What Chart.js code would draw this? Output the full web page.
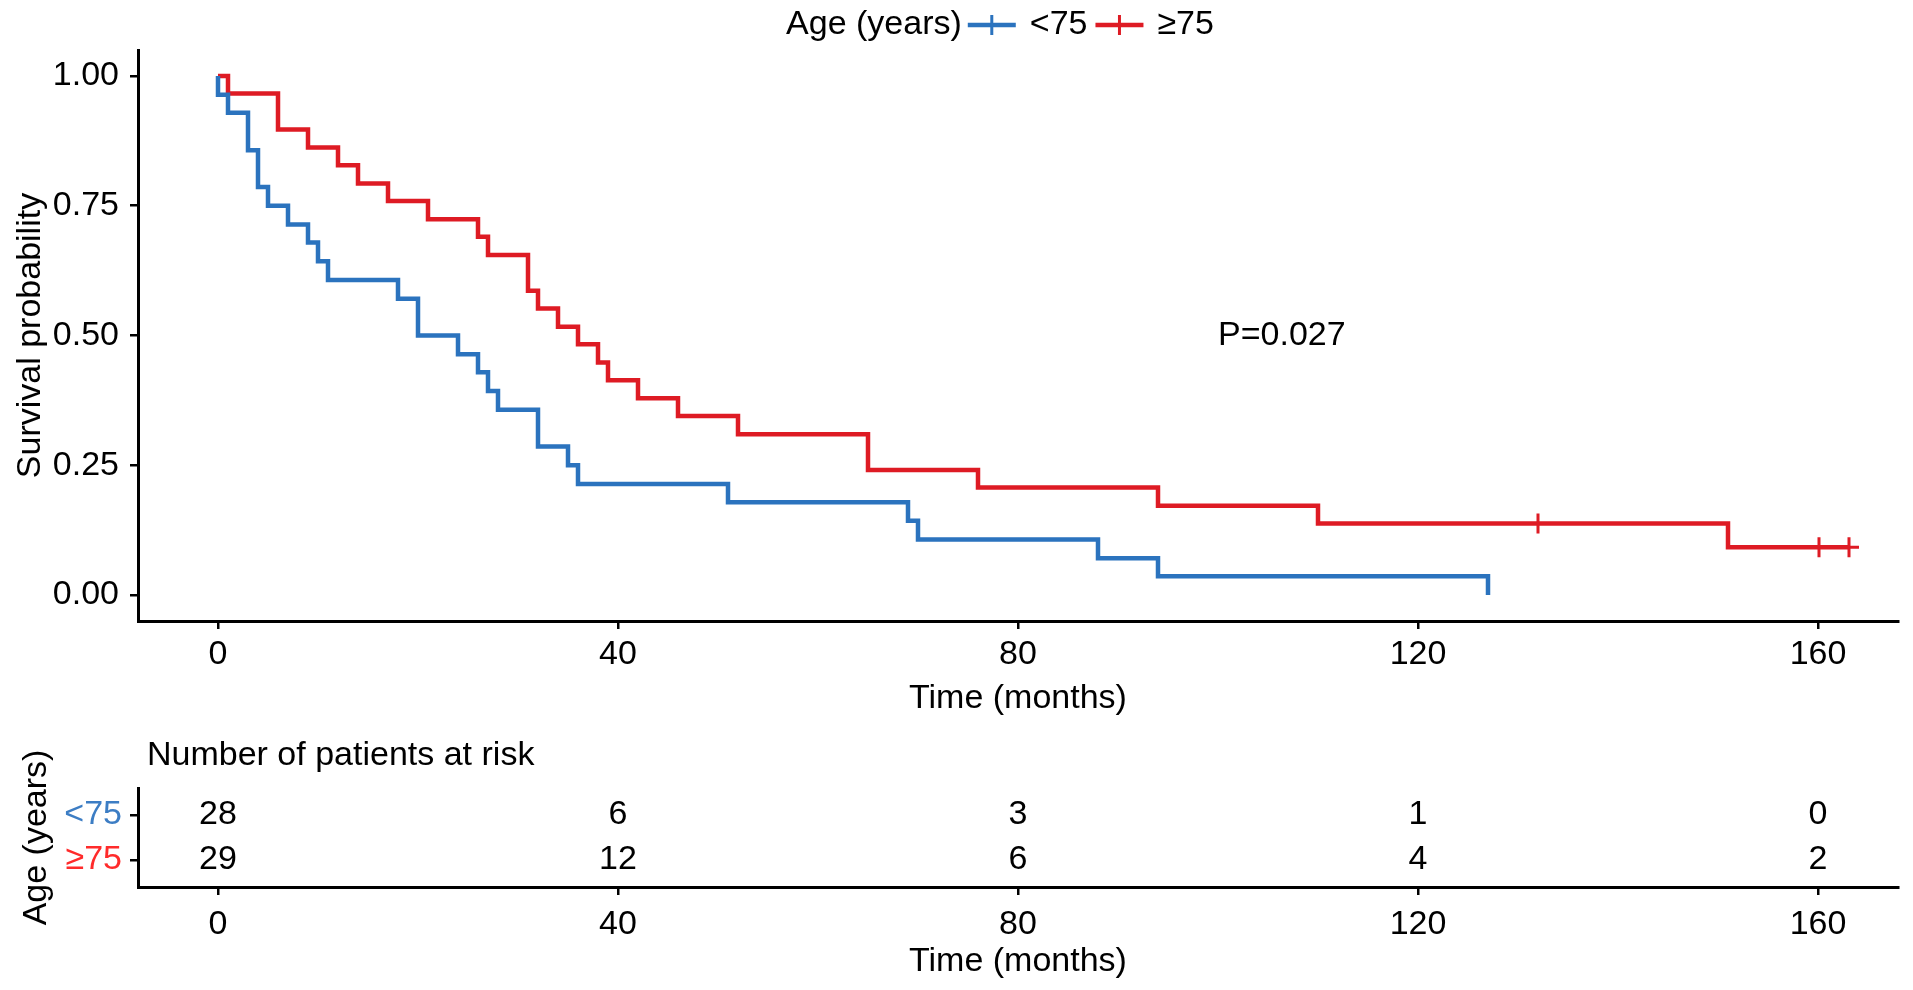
<!DOCTYPE html>
<html>
<head>
<meta charset="utf-8">
<script src="https://cdn.jsdelivr.net/npm/chart.js@4.4.0/dist/chart.umd.min.js"></script>
<style>
  html, body { margin: 0; padding: 0; background: #fff; }
  body { width: 1913px; height: 990px; position: relative; overflow: hidden; }
  #kmWrap { position: absolute; left: 0; top: 0; width: 1913px; height: 730px; }
  #riskWrap { position: absolute; left: 0; top: 730px; width: 1913px; height: 260px; }
</style>
</head>
<body>
<div id="kmWrap"><canvas id="km" width="1913" height="730"></canvas></div>
<div id="riskWrap"><canvas id="risk" width="1913" height="260"></canvas></div>
<script>
// tick labels and groups
const timeTicks = [0, 40, 80, 120, 160];
const survTicks = [0, 0.25, 0.5, 0.75, 1];
const groupLabels = ['<75', '≥75'];

// <75 curve (time in months, survival after the step)
const youngTimes = [0, 0, 1, 3, 4, 5, 7, 9, 10, 11, 18, 20, 24, 26, 27, 28, 32, 35, 36, 51, 69, 70, 88, 94, 127];
const youngSurv = [1, 0.964, 0.929, 0.857, 0.786, 0.750, 0.714, 0.679, 0.643, 0.607, 0.571, 0.500, 0.464, 0.429, 0.393, 0.357, 0.286, 0.250, 0.214, 0.179, 0.143, 0.107, 0.071, 0.036, 0];

// >=75 curve
const oldTimes = [0, 1, 6, 9, 12, 14, 17, 21, 26, 27, 31, 32, 34, 36, 38, 39, 42, 46, 52, 65, 76, 94, 110, 151, 163.1];
const oldSurv = [1, 0.966, 0.897, 0.862, 0.828, 0.793, 0.759, 0.724, 0.690, 0.655, 0.586, 0.552, 0.517, 0.483, 0.448, 0.414, 0.379, 0.345, 0.310, 0.241, 0.207, 0.172, 0.138, 0.092, 0.092];
const oldCensorTimes = [132, 160.1, 163.1];
const oldCensorSurv = [0.138, 0.092, 0.092];

// number at risk
const youngRisk = [28, 6, 3, 1, 0];
const oldRisk = [29, 12, 6, 4, 2];

const pValueText = 'P=0.027';

const BLUE = '#2B73BE';
const RED = '#DE1B24';
const FONT = '"Liberation Sans", Arial, Helvetica, sans-serif';
const FS = 34;

Chart.defaults.font.family = FONT;
Chart.defaults.font.size = FS;
Chart.defaults.color = '#000';

function toPoints(xs, ys) {
    return xs.map((x, i) => ({ x: x, y: ys[i] }));
}

function timeAxis(height, labelPad, titlePad) {
    return {
        type: 'linear', min: -8, max: 168,
        afterBuildTicks: s => { s.ticks = timeTicks.map(v => ({ value: v })); },
        afterFit: s => { s.height = height; },
        grid: { drawOnChartArea: false, drawTicks: true, tickLength: 8, color: '#000', lineWidth: 2.5 },
        border: { display: true, color: '#000', width: 3 },
        ticks: { color: '#000', padding: labelPad, maxRotation: 0, autoSkip: false },
        title: { display: true, text: 'Time (months)', color: '#000', padding: { top: 0, bottom: titlePad } }
    };
}

const kmText = {
    id: 'kmText',
    afterDraw(chart) {
        const { ctx, scales: { x, y } } = chart;
        ctx.save();
        ctx.font = FS + 'px ' + FONT;
        ctx.fillStyle = '#000';
        ctx.textBaseline = 'middle';
        ctx.textAlign = 'left';
        ctx.fillText(pValueText, x.getPixelForValue(100), y.getPixelForValue(0.5));

        // legend across the top
        const title = 'Age (years)';
        const keyW = 48, gapA = 6, gapB = 14, gapC = 8;
        const wTitle = ctx.measureText(title).width;
        const wA = ctx.measureText(groupLabels[0]).width;
        const wB = ctx.measureText(groupLabels[1]).width;
        const total = wTitle + gapA + keyW + gapB + wA + gapC + keyW + gapB + wB;
        let cx = 1000 - total / 2;
        const ly = 25;
        ctx.fillText(title, cx, ly);
        cx += wTitle + gapA;
        [[BLUE, groupLabels[0], wA], [RED, groupLabels[1], wB]].forEach(([col, lab, w]) => {
            ctx.strokeStyle = col;
            ctx.lineWidth = 4.5;
            ctx.beginPath(); ctx.moveTo(cx, ly); ctx.lineTo(cx + keyW, ly); ctx.stroke();
            ctx.lineWidth = 3;
            ctx.beginPath(); ctx.moveTo(cx + keyW / 2, ly - 10); ctx.lineTo(cx + keyW / 2, ly + 10); ctx.stroke();
            cx += keyW + gapB;
            ctx.fillStyle = '#000';
            ctx.fillText(lab, cx, ly);
            cx += w + gapC;
        });
        ctx.restore();
    }
};

new Chart(document.getElementById('km'), {
    type: 'line',
    data: {
        datasets: [
            { label: groupLabels[0], data: toPoints(youngTimes, youngSurv), borderColor: BLUE, borderWidth: 4.5, stepped: 'before', pointRadius: 0, fill: false },
            { label: groupLabels[1], data: toPoints(oldTimes, oldSurv), borderColor: RED, borderWidth: 4.5, stepped: 'before', pointRadius: 0, fill: false },
            { label: 'censored', data: toPoints(oldCensorTimes, oldCensorSurv), showLine: false, pointStyle: 'cross', pointRadius: 10, borderColor: RED, borderWidth: 3 }
        ]
    },
    options: {
        responsive: false, animation: false, events: [],
        layout: { padding: { left: 0, top: 50, right: 15, bottom: 0 } },
        plugins: { legend: { display: false }, tooltip: { enabled: false } },
        scales: {
            x: timeAxis(109, 5, 11),
            y: {
                type: 'linear', min: -0.05, max: 1.05,
                afterBuildTicks: s => { s.ticks = survTicks.map(v => ({ value: v })); },
                afterFit: s => { s.width = 138; },
                grid: { drawOnChartArea: false, drawTicks: true, tickLength: 8, color: '#000', lineWidth: 2.5 },
                border: { display: true, color: '#000', width: 3 },
                ticks: { color: '#000', padding: 11, callback: v => v.toFixed(2) },
                title: { display: true, text: 'Survival probability', color: '#000', padding: { top: 10, bottom: 0 } }
            }
        }
    },
    plugins: [kmText]
});

// risk table
const riskRows = [youngRisk, oldRisk];
const riskColors = ['#3C7DC4', '#FF2B2B'];

const riskText = {
    id: 'riskText',
    afterDraw(chart) {
        const { ctx, chartArea } = chart;
        ctx.save();
        ctx.font = FS + 'px ' + FONT;
        ctx.fillStyle = '#000';
        ctx.textBaseline = 'middle';
        ctx.textAlign = 'left';
        ctx.fillText('Number of patients at risk', chartArea.left + 9, 26);
        ctx.textAlign = 'center';
        chart.data.datasets.forEach((ds, di) => {
            chart.getDatasetMeta(di).data.forEach((pt, i) => {
                ctx.fillText(String(ds.data[i].n), pt.x, pt.y);
            });
        });
        ctx.restore();
    }
};

new Chart(document.getElementById('risk'), {
    type: 'scatter',
    data: {
        datasets: riskRows.map((row, r) => ({
            label: groupLabels[r],
            data: row.map((n, i) => ({ x: timeTicks[i], y: r + 1, n: n })),
            pointRadius: 0
        }))
    },
    options: {
        responsive: false, animation: false, events: [],
        layout: { padding: { left: 0, top: 58, right: 15, bottom: 0 } },
        plugins: { legend: { display: false }, tooltip: { enabled: false } },
        scales: {
            x: timeAxis(103, 9, 8),
            y: {
                type: 'linear', min: 0.4, max: 2.6, reverse: true,
                afterBuildTicks: s => { s.ticks = [1, 2].map(v => ({ value: v })); },
                afterFit: s => { s.width = 138; },
                grid: { drawOnChartArea: false, drawTicks: true, tickLength: 8, color: '#000', lineWidth: 2.5 },
                border: { display: true, color: '#000', width: 3 },
                ticks: { padding: 8, callback: v => groupLabels[v - 1], color: c => riskColors[c.index] },
                title: { display: true, text: 'Age (years)', color: '#000', padding: { top: 16, bottom: 0 } }
            }
        }
    },
    plugins: [riskText]
});
</script>
</body>
</html>
